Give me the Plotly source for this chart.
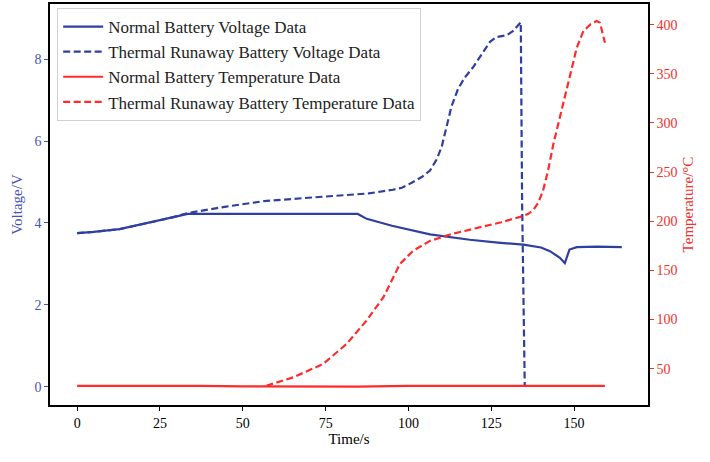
import plotly.graph_objects as go

# Normal battery voltage
t_nv = [0, 5, 12.8, 18, 23.9, 28, 33.4, 50, 70, 84.7, 87.4, 95, 106.5, 118.5, 127, 134.7, 140, 142.7, 145.7, 147.2, 148.6, 150.8, 157, 164.4]
v_nv = [3.75, 3.78, 3.85, 3.94, 4.04, 4.12, 4.22, 4.22, 4.22, 4.22, 4.1, 3.93, 3.72, 3.59, 3.52, 3.47, 3.40, 3.31, 3.15, 3.02, 3.35, 3.41, 3.42, 3.41]

# Thermal runaway battery voltage
t_tv = [0, 5, 12.8, 18, 23.9, 28, 33.4, 45, 57.1, 75.3, 88, 95.3, 98, 101, 104, 106.5, 108.5, 110, 111.5, 113, 115, 117, 119.5, 122, 124.6, 126.6, 129.6, 131.5, 133.9, 134.3, 135.1]
v_tv = [3.75, 3.78, 3.85, 3.94, 4.04, 4.12, 4.24, 4.40, 4.54, 4.65, 4.72, 4.81, 4.86, 4.98, 5.12, 5.28, 5.55, 5.85, 6.35, 6.85, 7.28, 7.55, 7.80, 8.10, 8.42, 8.54, 8.58, 8.68, 8.90, 4.5, 0.0]

# Normal battery temperature
t_nt = [0, 12, 25, 37, 50, 62, 75, 85, 100, 112, 125, 137, 150, 159.3]
T_nt = [32.5, 32.6, 33.0, 32.6, 32.0, 31.8, 31.8, 31.8, 32.5, 32.6, 32.5, 32.6, 33.0, 32.5]

# Thermal runaway battery temperature
t_tt = [57.1, 65.2, 74.2, 81.3, 87.3, 92.4, 95.4, 97.4, 101.4, 106.5, 113, 121.6, 128, 133.7, 136.2, 137.8, 139.2, 140.6, 142.1, 143.7, 145.7, 147.8, 149.5, 150.8, 152.8, 155, 156.8, 157.8, 159.3]
T_tt = [32.7, 41.2, 54.8, 75.1, 98.8, 122.5, 142.8, 156.4, 170.0, 180.0, 187.0, 193.6, 199.0, 204.5, 207.5, 212.0, 219.0, 231.0, 251.0, 278.0, 305.4, 332.5, 358.0, 376.5, 393.5, 400.5, 403.7, 402.0, 381.6]

x_ticks = [0, 25, 50, 75, 100, 125, 150]
v_ticks = [0, 2, 4, 6, 8]
T_ticks = [50, 100, 150, 200, 250, 300, 350, 400]

BLUE = "#2f3fa0"
RED = "#ff2b2b"
BLUE_TXT = "#4a52b4"
RED_TXT = "#f0302e"
FONT = "Liberation Serif, Times New Roman, DejaVu Serif, serif"

fig = go.Figure()
fig.add_trace(go.Scatter(x=t_nv, y=v_nv, mode="lines", name="Normal Battery Voltage Data",
                         line=dict(color=BLUE, width=2.2), yaxis="y"))
fig.add_trace(go.Scatter(x=t_tv, y=v_tv, mode="lines", name="Thermal Runaway Battery Voltage Data",
                         line=dict(color=BLUE, width=2.2, dash="7px,3.5px"), yaxis="y"))
fig.add_trace(go.Scatter(x=t_nt, y=T_nt, mode="lines", name="Normal Battery Temperature Data",
                         line=dict(color=RED, width=2.2), yaxis="y2"))
fig.add_trace(go.Scatter(x=t_tt, y=T_tt, mode="lines", name="Thermal Runaway Battery Temperature Data",
                         line=dict(color=RED, width=2.2, dash="7px,3.5px"), yaxis="y2"))

fig.update_layout(
    width=710, height=462,
    margin=dict(l=50, r=62, t=2, b=57),
    paper_bgcolor="white", plot_bgcolor="white",
    font=dict(family=FONT, size=14, color="black"),
    showlegend=True,
    legend=dict(x=0.012, y=0.99, xanchor="left", yanchor="top",
                bgcolor="rgba(255,255,255,0.9)", bordercolor="#d0d0d0", borderwidth=1,
                font=dict(family=FONT, size=17, color="#222222"),
                tracegroupgap=0, itemwidth=40),
    xaxis=dict(range=[-8.2, 172.3], tickvals=x_ticks, ticks="outside", ticklen=4,
               tickcolor="black", showline=True, linecolor="black", linewidth=1.5, mirror=True,
               showgrid=False, zeroline=False,
               tickfont=dict(family=FONT, size=14, color="black"),
               title=dict(text="Time/s", font=dict(family=FONT, size=15, color="black"), standoff=4)),
    yaxis=dict(range=[-0.445, 9.345], tickvals=v_ticks, ticks="outside", ticklen=4,
               tickcolor=BLUE_TXT, showline=True, linecolor="black", linewidth=1.5,
               showgrid=False, zeroline=False,
               tickfont=dict(family=FONT, size=14, color=BLUE_TXT),
               title=dict(text="Voltage/V", font=dict(family=FONT, size=15, color=BLUE_TXT), standoff=8)),
    yaxis2=dict(range=[13.1, 421], tickvals=T_ticks, ticks="outside", ticklen=4,
                tickcolor=RED_TXT, showline=True, linecolor="black", linewidth=1.5,
                overlaying="y", side="right", showgrid=False, zeroline=False,
                tickfont=dict(family=FONT, size=14, color=RED_TXT),
                title=dict(text="Temperature/°C", font=dict(family=FONT, size=15, color=RED_TXT), standoff=6)),
)

fig.write_html("out.html")
